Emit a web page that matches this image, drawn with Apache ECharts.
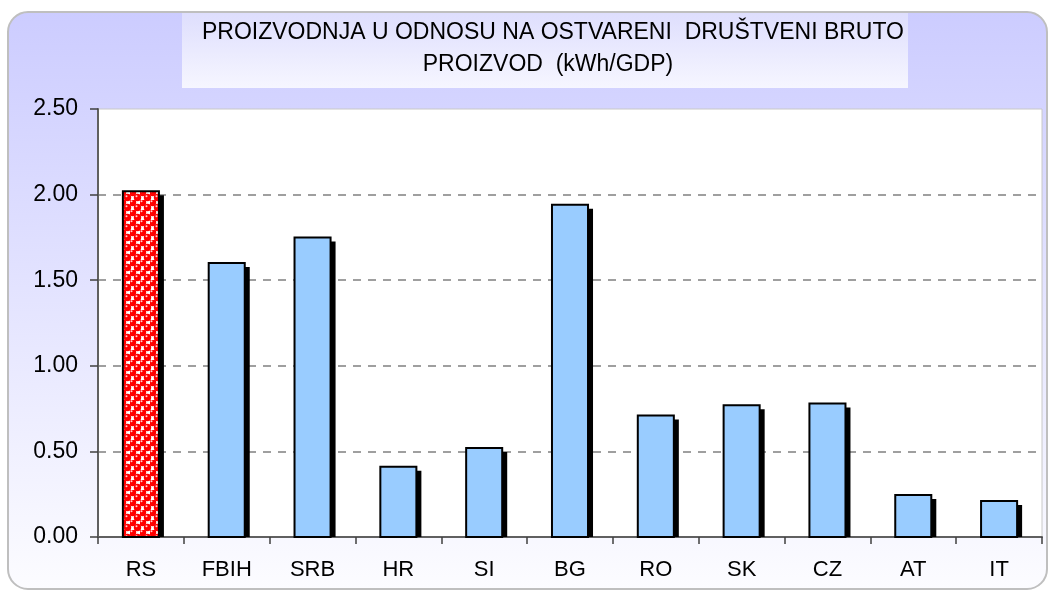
<!DOCTYPE html>
<html>
<head>
<meta charset="utf-8">
<script src="https://cdn.jsdelivr.net/npm/echarts@6/dist/echarts.min.js"></script>
<style>
  html, body { margin: 0; padding: 0; background: #fff; }
  #chart { width: 1049px; height: 592px; }
</style>
</head>
<body>
<div id="chart"></div>
<script>
// podaci
const categories = ['RS', 'FBIH', 'SRB', 'HR', 'SI', 'BG', 'RO', 'SK', 'CZ', 'AT', 'IT'];
const values = [2.02, 1.60, 1.75, 0.41, 0.52, 1.94, 0.71, 0.77, 0.78, 0.245, 0.21];
const yTicks = [0, 0.5, 1.0, 1.5, 2.0, 2.5];
const titleLines = ['PROIZVODNJA U ODNOSU NA OSTVARENI  DRUŠTVENI BRUTO', 'PROIZVOD  (kWh/GDP)'];

const FONT = '"Liberation Sans", Arial, sans-serif';

// crvene kuglice za RS stubac
function makeBallPattern() {
  const s = 10;
  const c = document.createElement('canvas');
  c.width = s; c.height = s;
  const ctx = c.getContext('2d');
  ctx.fillStyle = '#ffffff';
  ctx.fillRect(0, 0, s, s);
  const h = s / 2;
  const balls = [[h / 2, h / 2], [h * 1.5, h * 1.5], [h * 1.5, -h / 2], [-h / 2, h * 1.5], [s + h / 2, h * 1.5], [h * 1.5, s + h / 2], [s + h / 2, -h / 2], [-h / 2, s + h / 2]];
  balls.forEach(([x, y]) => {
    ctx.beginPath();
    ctx.arc(x, y, 3.7, 0, Math.PI * 2);
    ctx.fillStyle = '#ff0000';
    ctx.fill();
    ctx.beginPath();
    ctx.arc(x - 1, y - 1.3, 1, 0, Math.PI * 2);
    ctx.fillStyle = '#ffd0d0';
    ctx.fill();
  });
  return c;
}
const ballPattern = { image: makeBallPattern(), repeat: 'repeat' };

const chart = echarts.init(document.getElementById('chart'));

chart.setOption({
  animation: false,
  graphic: [
    {
      type: 'rect', z: -10, silent: true,
      shape: { x: 8, y: 12, width: 1039, height: 577, r: 20 },
      style: {
        fill: new echarts.graphic.LinearGradient(0, 0, 0, 1, [
          { offset: 0, color: '#ccccff' },
          { offset: 1, color: '#fcfcff' }
        ]),
        stroke: '#bfbfbf', lineWidth: 2
      }
    },
    {
      type: 'rect', z: -9, silent: true,
      shape: { x: 182, y: 13, width: 726, height: 75 },
      style: {
        fill: new echarts.graphic.LinearGradient(0, 0, 0, 1, [
          { offset: 0, color: '#dedefd' },
          { offset: 1, color: '#f6f6ff' }
        ])
      }
    },
    {
      type: 'text', silent: true, x: 553, y: 33,
      style: { text: titleLines[0], font: '23px ' + FONT, fill: '#000', align: 'center', verticalAlign: 'middle' }
    },
    {
      type: 'text', silent: true, x: 548, y: 65,
      style: { text: titleLines[1], font: '23px ' + FONT, fill: '#000', align: 'center', verticalAlign: 'middle' }
    }
  ],
  grid: {
    left: 98, right: 7, top: 109, bottom: 55,
    show: true, backgroundColor: '#ffffff', borderColor: '#c8c8c8', borderWidth: 1
  },
  xAxis: {
    type: 'category',
    data: categories,
    axisLine: { lineStyle: { color: '#606060', width: 2 } },
    axisTick: { show: true, interval: 0, length: 7, lineStyle: { color: '#404040', width: 1.5 } },
    axisLabel: { color: '#000', fontSize: 22, fontFamily: FONT, margin: 22, interval: 0 },
    splitLine: { show: false }
  },
  yAxis: {
    type: 'value',
    min: yTicks[0], max: yTicks[yTicks.length - 1], interval: 0.5,
    axisLine: { show: true, lineStyle: { color: '#606060', width: 2 } },
    axisTick: { show: true, length: 8, lineStyle: { color: '#404040', width: 1.5 } },
    axisLabel: { color: '#000', fontSize: 23, fontFamily: FONT, margin: 20, formatter: v => v.toFixed(2) },
    splitLine: {
      show: true, showMinLine: false, showMaxLine: false,
      lineStyle: { color: '#808080', width: 1.5, type: [8, 7] }
    }
  },
  series: [{
    type: 'custom',
    data: values.map((v, i) => [i, v]),
    encode: { x: 0, y: 1 },
    renderItem: (params, api) => {
      const idx = api.value(0);
      const top = api.coord([idx, api.value(1)]);
      const base = api.coord([idx, 0]);
      const bw = api.size([1, 0])[0] * 0.42;
      const left = top[0] - bw / 2;
      const h = base[1] - top[1];
      return {
        type: 'group',
        children: [
          { type: 'rect', shape: { x: left + 5, y: top[1] + 4, width: bw, height: h - 4 }, style: { fill: '#000' } },
          {
            type: 'rect', shape: { x: left, y: top[1], width: bw, height: h },
            style: { fill: params.dataIndex === 0 ? ballPattern : '#99ccff', stroke: '#000', lineWidth: 2 }
          }
        ]
      };
    }
  }]
});
</script>
</body>
</html>
